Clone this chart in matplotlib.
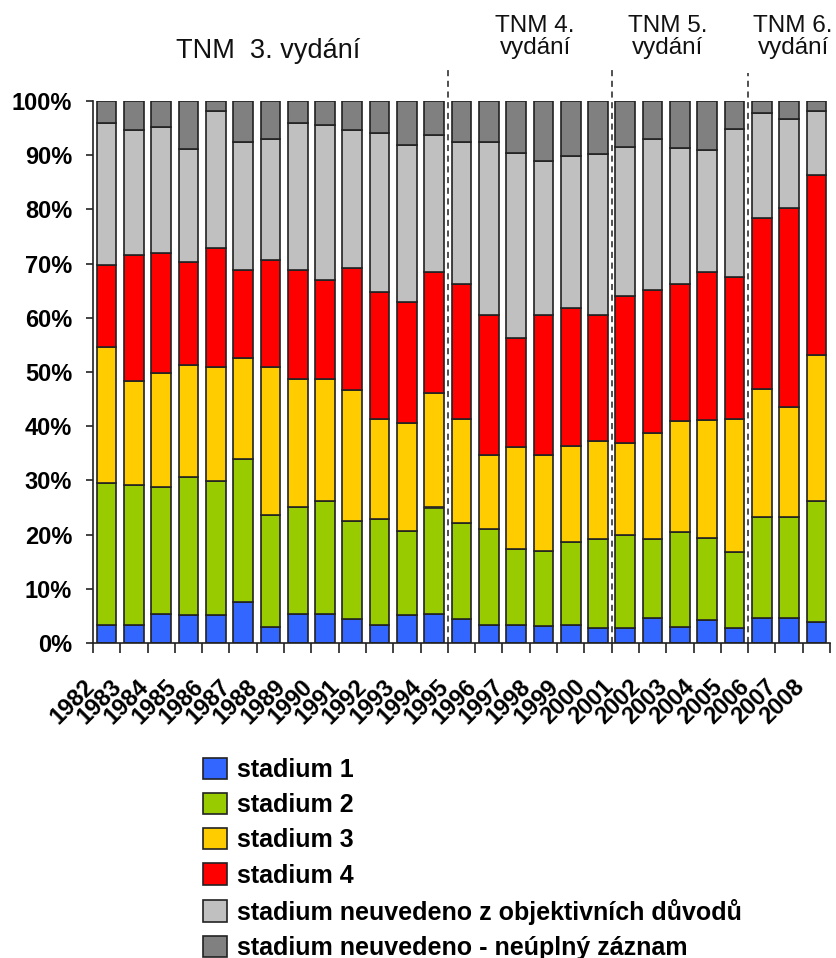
import numpy as np
import matplotlib
matplotlib.use("Agg")
import matplotlib.pyplot as plt
from matplotlib import font_manager
from matplotlib.patches import Patch
from matplotlib.transforms import ScaledTranslation

years = [str(y) for y in range(1982, 2009)]

# podíl jednotlivých stadií v %
stadium1 = [3.4, 3.4, 5.4, 5.1, 5.1, 7.6, 2.9, 5.4, 5.4, 4.4, 3.4, 5.1, 5.4, 4.4,
            3.4, 3.4, 3.2, 3.4, 2.7, 2.7, 4.7, 2.9, 4.3, 2.8, 4.6, 4.6, 3.9]
stadium2 = [26.2, 25.7, 23.4, 25.5, 24.8, 26.4, 20.8, 19.7, 20.8, 18.1, 19.5, 15.5, 19.6, 17.7,
            17.6, 13.9, 13.7, 15.3, 16.4, 17.2, 14.4, 17.6, 15.1, 13.9, 18.6, 18.6, 22.3]
stadium3 = [25.1, 19.2, 21.0, 20.7, 21.1, 18.5, 27.3, 23.6, 22.5, 24.1, 18.5, 20.0, 21.1, 19.3,
            13.6, 18.8, 17.7, 17.7, 18.1, 17.0, 19.7, 20.4, 21.8, 24.6, 23.6, 20.4, 26.9]
stadium4 = [15.0, 23.2, 22.1, 19.0, 21.9, 16.4, 19.6, 20.2, 18.3, 22.5, 23.4, 22.3, 22.4, 24.8,
            26.0, 20.2, 26.0, 25.5, 23.4, 27.1, 26.3, 25.3, 27.2, 26.3, 31.7, 36.7, 33.2]
neuvedeno_obj = [26.2, 23.2, 23.3, 20.8, 25.2, 23.6, 22.3, 27.0, 28.5, 25.6, 29.3, 28.9, 25.3, 26.3,
                 31.9, 34.1, 28.3, 28.0, 29.7, 27.5, 27.8, 25.2, 22.6, 27.2, 19.2, 16.3, 11.8]
neuvedeno_neupl = [4.1, 5.3, 4.8, 8.9, 1.9, 7.5, 7.1, 4.1, 4.5, 5.3, 5.9, 8.2, 6.2, 7.5,
                   7.5, 9.6, 11.1, 10.1, 9.7, 8.5, 7.1, 8.6, 9.0, 5.2, 2.3, 3.4, 1.9]

labels = ["stadium 1", "stadium 2", "stadium 3", "stadium 4",
          "stadium neuvedeno z objektivních důvodů",
          "stadium neuvedeno - neúplný záznam"]
colors = ["#3366FF", "#99CC00", "#FFCC00", "#FF0000", "#C0C0C0", "#808080"]

# hranice vydání TNM a popisky
edition_breaks = [12.5, 18.5, 23.5]
edition_texts = ["TNM  3. vydání", "TNM 4.\nvydání", "TNM 5.\nvydání", "TNM 6.\nvydání"]
edition_x = [5.9, 15.7, 20.55, 25.15]

names = {f.name for f in font_manager.fontManager.ttflist}
narrow = "Liberation Sans Narrow" if "Liberation Sans Narrow" in names else "Liberation Sans"
plt.rcParams["font.family"] = ["Liberation Sans", "DejaVu Sans"]

fig = plt.figure(figsize=(8.36, 9.58), dpi=100)
ax = fig.add_axes([93 / 836, 1 - 643 / 958, 737 / 836, 542 / 958])

series = [stadium1, stadium2, stadium3, stadium4, neuvedeno_obj, neuvedeno_neupl]
x = np.arange(len(years))
bottom = np.zeros(len(years))
for vals, col in zip(series, colors):
    vals = np.array(vals)
    ax.bar(x, vals, bottom=bottom, width=0.72, color=col,
           edgecolor="#222222", linewidth=1.2, zorder=2)
    bottom += vals

ax.set_xlim(-0.5, 26.5)
ax.set_ylim(0, 100)

for xb, top in zip(edition_breaks, [106.0, 106.0, 105.2]):
    ax.vlines(xb, 0, top, colors="#222222", linestyles=(0, (4, 3)),
              linewidth=1.1, zorder=3, clip_on=False)

for xt, t in zip(edition_x, edition_texts):
    if "3." in t:
        yt, fs = 109.3, 19.5
    else:
        yt, fs = 111.8, 17.5
    ax.text(xt, yt, t, ha="center", va="center", multialignment="center",
            fontsize=fs, family=[narrow, "DejaVu Sans"], color="#111111",
            linespacing=1.0, clip_on=False)

# osa y
ax.set_yticks(np.arange(0, 101, 10))
ax.set_yticklabels([f"{v}%" for v in range(0, 101, 10)])
ax.tick_params(axis="y", direction="out", length=5, width=1.2, pad=10,
               labelsize=17, color="#222222")
for lab in ax.get_yticklabels():
    lab.set_fontweight("bold")

# osa x: značky na hranicích kategorií, popisky pod sloupci
ax.set_xticks(np.arange(-0.5, 27, 1))
ax.set_xticklabels([])
ax.tick_params(axis="x", which="major", direction="out", length=7, width=1.2,
               color="#222222")
ax.set_xticks(x, minor=True)
ax.set_xticklabels(years, minor=True, rotation=45, ha="right", va="center",
                   rotation_mode="anchor", fontsize=17, fontweight="bold")
ax.tick_params(axis="x", which="minor", length=0, pad=29)
off = ScaledTranslation(-16 / 100, 0, fig.dpi_scale_trans)
for lab in ax.get_xticklabels(minor=True):
    lab.set_transform(lab.get_transform() + off)

for s in ["top", "right"]:
    ax.spines[s].set_visible(False)
for s in ["left", "bottom"]:
    ax.spines[s].set_linewidth(1.2)
    ax.spines[s].set_color("#222222")

handles = [Patch(facecolor=c, edgecolor="#222222", linewidth=1.2) for c in colors]
fig.legend(handles, labels, loc="upper left", bbox_to_anchor=(203 / 836, 1 - 758 / 958),
           frameon=False, borderpad=0, borderaxespad=0, handlelength=0.96,
           handleheight=0.92, handletextpad=0.4, labelspacing=0.44,
           prop={"size": 18, "weight": "bold"})

fig.savefig("out.png", dpi=100)
